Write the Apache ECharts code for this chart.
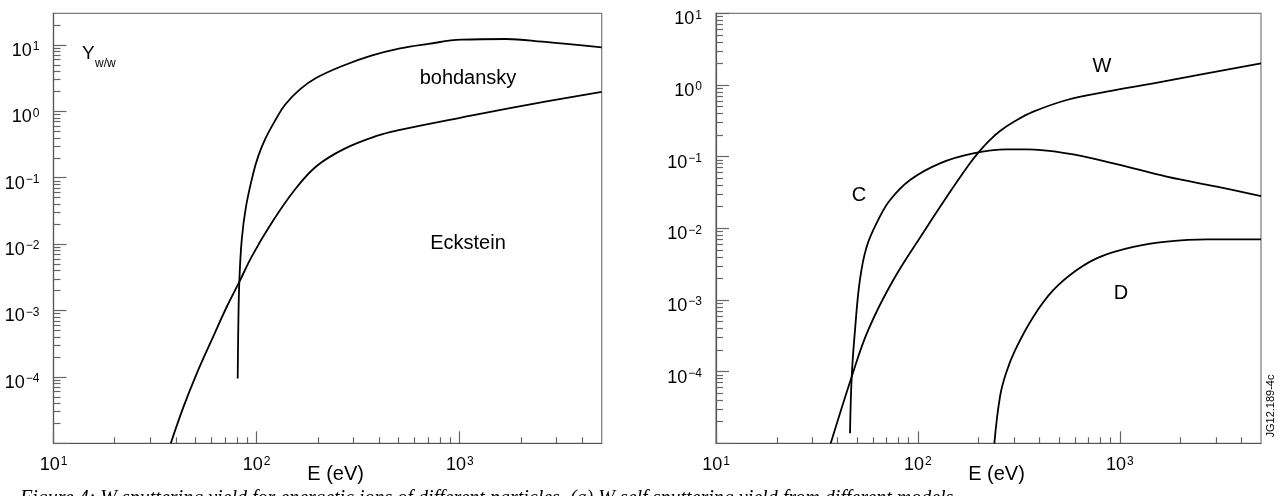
<!DOCTYPE html>
<html>
<head>
<meta charset="utf-8">
<script src="https://cdn.jsdelivr.net/npm/echarts@6/dist/echarts.min.js"></script>
<style>
  html, body { margin: 0; padding: 0; background: #fff; }
  #chart { width: 1279px; height: 496px; }
</style>
</head>
<body>
<div id="chart"></div>
<script>
// energies in eV, yields in atoms/ion
const bohdanskyE = [80.7, 81.3, 82.2, 84.5, 88.7, 96.4, 101.9, 110, 123.2, 138, 164, 197, 266, 367, 508, 701, 1016, 1692, 2560, 5000]
const bohdanskyY = [9.5e-5, 6.4e-4, 2.7e-3, 0.0117, 0.037, 0.119, 0.212, 0.379, 0.722, 1.26, 2.16, 3.2, 4.87, 6.9, 8.9, 10.4, 12.0, 12.3, 11.2, 9.2]

const ecksteinE = [37.8, 43.6, 50.7, 60.1, 71.3, 82.2, 94.6, 118.5, 154.5, 197.6, 267, 390, 508, 1016, 2028, 5000]
const ecksteinY = [1e-5, 3.5e-5, 1.12e-4, 3.6e-4, 1.14e-3, 2.7e-3, 6.5e-3, 0.0208, 0.0665, 0.150, 0.268, 0.426, 0.525, 0.805, 1.21, 1.97]

const wE = [37, 47, 56.7, 75.5, 108.4, 139, 181, 203, 227.5, 255, 303, 373, 546, 861, 1466, 2692, 5000]
const wY = [1e-5, 8.5e-5, 3.8e-4, 1.9e-3, 9.5e-3, 0.0276, 0.0807, 0.121, 0.171, 0.228, 0.314, 0.424, 0.617, 0.805, 1.055, 1.455, 2.0]

const cE = [46.1, 47, 48.8, 51.6, 55.7, 63.6, 72.8, 91.4, 128.5, 188, 275, 346, 546, 929, 1706, 3020, 5000]
const cY = [1.38e-5, 8.5e-5, 3.8e-4, 1.9e-3, 5.5e-3, 0.0131, 0.0248, 0.0472, 0.0807, 0.111, 0.126, 0.126, 0.111, 0.0807, 0.0525, 0.0381, 0.0282]

const dE = [239, 255, 273, 303, 373, 469, 612, 798, 1167, 1706, 2692, 5000]
const dY = [1e-5, 4.5e-5, 9.5e-5, 2.0e-4, 5.85e-4, 1.38e-3, 2.62e-3, 4.0e-3, 5.5e-3, 6.5e-3, 7.0e-3, 7.0e-3]

// axis ticks
const xMajor = [10, 100, 1000]
const xMinor = [20, 30, 40, 50, 60, 70, 80, 90, 200, 300, 400, 500, 600, 700, 800, 900, 2000, 3000, 4000]
const yMajor = [1e-5, 1e-4, 1e-3, 1e-2, 1e-1, 1, 10]
const yLabels = [1e-4, 1e-3, 1e-2, 1e-1, 1, 10]
const yMinor = []
yMajor.forEach(d => { for (let k = 2; k <= 9; k++) yMinor.push(+(d * k).toPrecision(3)) })

const FONT = '"Liberation Sans", Arial, Helvetica, sans-serif'

const pair = (xs, ys) => xs.map((x, i) => [x, ys[i]])

const powLabel = (v) => {
  const e = Math.round(Math.log10(v))
  return '{b|10}{s|' + (e < 0 ? '\u2212' + (-e) : e) + '}'
}

const labelStyle = (margin, vals, pad) => ({
  customValues: vals,
  formatter: powLabel,
  margin: margin,
  padding: pad,
  color: '#000',
  fontFamily: FONT,
  rich: {
    b: { fontSize: 18, lineHeight: 20, fontFamily: FONT, color: '#000' },
    s: { fontSize: 12, lineHeight: 12, fontFamily: FONT, color: '#000', verticalAlign: 'top', padding: [0, 0, 0, 1] }
  }
})

const rects = [
  { left: 53.5, top: 13.3, width: 548.2, height: 430 },
  { left: 716, top: 13.3, width: 545, height: 430 }
]
const yMax = [30, 10]

const grid = []
const xAxis = []
const yAxis = []
rects.forEach((r, p) => {
  // main grid: frame, major ticks and labels
  grid.push(Object.assign({ show: true, borderColor: '#7a7a7a', borderWidth: 1.2, backgroundColor: '#fff', outerBoundsMode: 'none', containLabel: false }, r))
  // overlay grid: minor ticks only
  grid.push(Object.assign({ show: false, outerBoundsMode: 'none', containLabel: false }, r))
  const gMain = p * 2, gMinor = p * 2 + 1
  xAxis.push({
    gridIndex: gMain, type: 'log', logBase: 10, min: 10, max: 5000,
    axisLine: { lineStyle: { color: '#555', width: 1.2 } },
    axisTick: { inside: true, length: 12, customValues: xMajor, lineStyle: { color: '#666', width: 1.2 } },
    axisLabel: labelStyle(12, xMajor, 0),
    splitLine: { show: false },
    name: 'E (eV)', nameLocation: 'middle', nameGap: 21, nameMoveOverlap: false,
    nameTextStyle: { fontSize: 20, fontFamily: FONT, color: '#000', padding: [0, 0, 0, 16] }
  })
  xAxis.push({
    gridIndex: gMinor, type: 'log', logBase: 10, min: 10, max: 5000,
    axisLine: { show: false },
    axisTick: { inside: true, length: 6, customValues: xMinor, lineStyle: { color: '#666', width: 1.2 } },
    axisLabel: { show: false },
    splitLine: { show: false }
  })
  yAxis.push({
    gridIndex: gMain, type: 'log', logBase: 10, min: 1e-5, max: yMax[p],
    axisLine: { lineStyle: { color: '#555', width: 1.2 } },
    axisTick: { inside: true, length: 13, customValues: yMajor, lineStyle: { color: '#666', width: 1.2 } },
    axisLabel: labelStyle(14, yLabels, [12, 0, 0, 0]),
    splitLine: { show: false }
  })
  yAxis.push({
    gridIndex: gMinor, type: 'log', logBase: 10, min: 1e-5, max: yMax[p],
    axisLine: { show: false },
    axisTick: { inside: true, length: 7, customValues: yMinor.filter(v => v < yMax[p]), lineStyle: { color: '#666', width: 1.2 } },
    axisLabel: { show: false },
    splitLine: { show: false }
  })
})

const curve = (name, data, axis) => ({
  name: name,
  type: 'line',
  xAxisIndex: axis,
  yAxisIndex: axis,
  data: data,
  showSymbol: false,
  smooth: 0.4,
  clip: true,
  lineStyle: { color: '#000', width: 1.8 },
  z: 5
})

const text = (str, x, y, opts) => ({
  type: 'text', x: x, y: y, z: 10,
  style: Object.assign({ text: str, fontSize: 20, fontFamily: FONT, fill: '#000', align: 'center', verticalAlign: 'middle' }, opts || {})
})

const chart = echarts.init(document.getElementById('chart'), null, { renderer: 'canvas' })
chart.setOption({
  animation: false,
  backgroundColor: '#fff',
  grid: grid,
  xAxis: xAxis,
  yAxis: yAxis,
  series: [
    curve('bohdansky', pair(bohdanskyE, bohdanskyY), 0),
    curve('Eckstein', pair(ecksteinE, ecksteinY), 0),
    curve('W', pair(wE, wY), 2),
    curve('C', pair(cE, cY), 2),
    curve('D', pair(dE, dY), 2)
  ],
  graphic: [
    text('Y', 82, 54, { align: 'left', fontSize: 19 }),
    text('w/w', 95, 64, { align: 'left', fontSize: 12 }),
    text('bohdansky', 468, 78),
    text('Eckstein', 468, 243),
    text('W', 1102, 66),
    text('C', 859, 195),
    text('D', 1121, 293),
    {
      type: 'text', x: 1271, y: 406, rotation: Math.PI / 2, z: 10,
      style: { text: 'JG12.189-4c', fontSize: 11, fontFamily: FONT, fill: '#000', align: 'center', verticalAlign: 'middle' }
    },
    text('Figure 4: W sputtering yield for energetic ions of different particles. (a) W self sputtering yield from different models',
      20, 489, { align: 'left', verticalAlign: 'top', fontSize: 20, fontStyle: 'italic', fontFamily: '"Liberation Serif", "DejaVu Serif", serif' })
  ]
})
</script>
</body>
</html>
